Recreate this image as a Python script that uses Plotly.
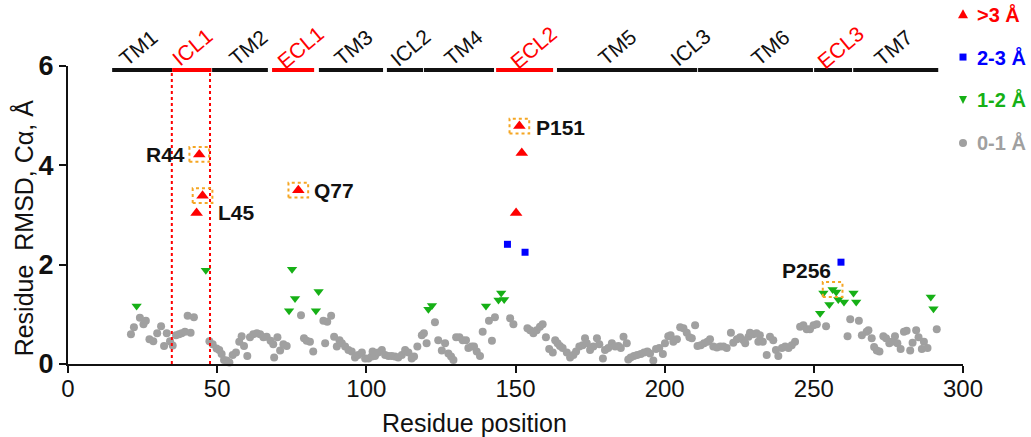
import plotly.graph_objects as go

# residue position / Cα RMSD per class
gray_x = [21.1, 22.1, 24.1, 25.3, 26.1, 27.3, 28.6, 29.9, 31.2, 32.2, 33.1, 34.2, 35.1, 36.2, 37.2, 38.1,
          39.2, 40.1, 41.1, 42.2, 47.4, 48.5, 49.8, 50.7, 51.5, 52.3, 53.2, 54.1, 55.2, 56.3, 57.4, 58.2,
          59.0, 60.1, 61.0, 62.1, 63.3, 64.4, 65.5, 66.6, 67.9, 68.8, 69.1, 70.2, 71.1, 72.2, 73.3, 78.1,
          79.1, 80.0, 81.1, 82.2, 85.6, 86.2, 86.9, 88.2, 89.2, 90.1, 91.0, 91.8, 92.9, 94.0, 95.1, 96.2,
          97.3, 98.5, 99.6, 100.7, 101.8, 102.1, 102.9, 104.0, 105.2, 106.3, 107.4, 108.5, 109.6, 110.7,
          111.9, 113.0, 114.1, 115.2, 116.0, 117.1, 118.6, 119.3, 120.2, 123.0, 124.1, 125.3, 126.4, 127.5,
          128.4, 129.2, 130.1, 131.2, 132.3, 133.4, 134.2, 135.3, 136.1, 137.0, 138.1, 139.0, 141.1, 142.1,
          143.1, 148.2, 149.3, 154.0, 154.9, 156.0, 157.1, 158.2, 159.1, 160.2, 161.3, 162.5, 163.3, 164.1,
          164.9, 165.8, 167.2, 168.3, 169.4, 170.3, 171.4, 172.5, 173.3, 173.9, 175.0, 176.1, 177.3, 178.1,
          179.3, 180.0, 181.1, 182.3, 183.4, 184.5, 185.3, 186.2, 187.3, 187.8, 188.6, 189.7, 190.8, 192.0,
          193.1, 194.2, 195.1, 196.2, 197.1, 198.2, 199.4, 200.1, 201.2, 202.0, 202.9, 204.1, 205.2, 206.3,
          207.4, 208.3, 209.1, 210.2, 211.0, 212.1, 213.2, 214.3, 215.2, 216.3, 217.5, 218.6, 219.7, 220.8,
          222.2, 223.0, 224.2, 225.3, 226.4, 227.0, 228.1, 228.6, 229.7, 230.8, 231.4, 231.9, 232.9, 234.2,
          235.3, 236.4, 237.3, 238.1, 239.3, 240.4, 241.5, 242.6, 243.7, 245.4, 246.5, 247.6, 248.7, 249.9,
          251.0, 254.1, 261.3, 262.2, 265.1, 266.1, 267.7, 268.3, 269.4, 270.2, 271.1, 272.0, 273.3, 274.2,
          275.3, 276.1, 277.2, 278.0, 279.1, 280.2, 281.1, 282.3, 283.1, 284.3, 285.1, 286.2, 286.9, 288.1,
          291.2]
gray_y = [0.60, 0.74, 0.93, 0.80, 0.87, 0.50, 0.46, 0.62, 0.76, 0.36, 0.62, 0.46, 0.37, 0.58, 0.60, 0.62,
          0.65, 0.97, 0.63, 0.94, 0.46, 0.40, 0.31, 0.28, 0.20, 0.08, 0.07, 0.03, 0.18, 0.23, 0.45, 0.56,
          0.36, 0.16, 0.54, 0.60, 0.62, 0.60, 0.54, 0.55, 0.47, 0.40, 0.13, 0.54, 0.27, 0.40, 0.36, 0.98,
          0.52, 0.47, 0.45, 0.25, 0.87, 0.42, 0.85, 0.97, 0.55, 0.35, 0.48, 0.42, 0.35, 0.28, 0.25, 0.13,
          0.18, 0.23, 0.11, 0.11, 0.15, 0.25, 0.16, 0.23, 0.28, 0.18, 0.16, 0.16, 0.15, 0.13,
          0.18, 0.28, 0.23, 0.11, 0.15, 0.35, 0.58, 0.62, 0.42, 0.84, 0.48, 0.27, 0.42, 0.21,
          0.15, 0.08, 0.54, 0.54, 0.48, 0.48, 0.32, 0.35, 0.35, 0.25, 0.16, 0.65, 0.87, 0.47,
          0.94, 0.92, 0.80, 0.72, 0.68, 0.62, 0.68, 0.75, 0.80, 0.54, 0.30, 0.23, 0.48, 0.42,
          0.36, 0.32, 0.23, 0.13, 0.18, 0.25, 0.35, 0.38, 0.52, 0.42, 0.28, 0.35, 0.52, 0.40,
          0.11, 0.28, 0.32, 0.42, 0.35, 0.36, 0.32, 0.55, 0.42, 0.09, 0.13, 0.16, 0.18, 0.20,
          0.23, 0.25, 0.21, 0.07, 0.30, 0.32, 0.20, 0.42, 0.56, 0.58, 0.45, 0.50, 0.74, 0.72,
          0.63, 0.54, 0.52, 0.78, 0.36, 0.38, 0.42, 0.45, 0.50, 0.35, 0.33, 0.35, 0.35, 0.32,
          0.63, 0.43, 0.50, 0.54, 0.48, 0.42, 0.55, 0.63, 0.60, 0.62, 0.45, 0.58, 0.45, 0.18,
          0.55, 0.48, 0.28, 0.16, 0.32, 0.35, 0.32, 0.38, 0.45, 0.75, 0.78, 0.70, 0.70, 0.78,
          0.80, 0.76, 0.56, 0.90, 0.87, 0.58, 0.65, 0.68, 0.52, 0.34, 0.27, 0.25, 0.56, 0.52,
          0.42, 0.45, 0.56, 0.42, 0.30, 0.65, 0.67, 0.27, 0.43, 0.68, 0.54, 0.30, 0.45, 0.32,
          0.70]

green_x = [23.0, 46.2, 74.1, 75.1, 76.1, 83.1, 84.0, 120.8, 122.0, 140.1, 144.3, 145.2, 146.2,
           252.1, 253.2, 255.2, 256.3, 257.5, 258.2, 260.1, 263.3, 264.2, 289.2, 290.1]
green_y = [1.17, 1.89, 1.07, 1.91, 1.32, 1.07, 1.46, 1.10, 1.18, 1.17, 1.29, 1.43, 1.30,
           1.02, 1.43, 1.20, 1.50, 1.45, 1.30, 1.25, 1.43, 1.25, 1.35, 1.11]

blue_x = [147.3, 153.2, 259.1]
blue_y = [2.41, 2.25, 2.05]

red_x = [43.1, 44.0, 45.1, 77.2, 150.2, 151.3, 152.1]
red_y = [3.04, 4.22, 3.39, 3.50, 3.04, 4.79, 4.25]

# highlighted residues
hl_names = ["R44", "L45", "Q77", "P151", "P256"]
hl_x = [44.0, 45.1, 77.2, 151.3, 256.3]
hl_y = [4.22, 3.39, 3.50, 4.79, 1.50]

# topology segments along the top
seg_start = [14.8, 34.9, 48.3, 68.4, 84.1, 106.9, 119.3, 143.5, 163.9, 211.2, 250.1, 263.2]
seg_end = [34.9, 48.1, 67.0, 82.5, 105.6, 119.0, 142.8, 162.6, 210.9, 249.7, 262.8, 291.7]
seg_red = [False, True, False, True, False, False, False, True, False, False, False, False]
region_names = ["TM1", "ICL1", "TM2", "ECL1", "TM3", "ICL2", "TM4", "ECL2", "TM5", "ICL3", "TM6", "ECL3", "TM7"]
region_x = [23.6, 41.4, 60.4, 77.8, 95.6, 114.7, 132.5, 155.9, 183.9, 208.5, 235.3, 258.8, 276.7]
region_red = [False, True, False, True, False, False, False, True, False, False, False, True, False]
icl1_lines = [34.8, 47.6]

# legend classes
leg_names = [">3 Å", "2-3 Å", "1-2 Å", "0-1 Å"]
leg_colors = ["#ff0000", "#0000ff", "#16b016", "#a0a0a0"]

FONT = "Liberation Sans, Arial, sans-serif"
RED = "#ff0000"
Y_MAX = 6
X_MAX = 300

fig = go.Figure()
fig.add_trace(go.Scatter(x=gray_x, y=gray_y, mode="markers", cliponaxis=False,
                         marker=dict(symbol="circle", size=8, color=leg_colors[3])))
fig.add_trace(go.Scatter(x=green_x, y=green_y, mode="markers", cliponaxis=False,
                         marker=dict(symbol="triangle-down", size=9, color=leg_colors[2])))
fig.add_trace(go.Scatter(x=blue_x, y=blue_y, mode="markers", cliponaxis=False,
                         marker=dict(symbol="square", size=7, color=leg_colors[1])))
fig.add_trace(go.Scatter(x=red_x, y=red_y, mode="markers", cliponaxis=False,
                         marker=dict(symbol="triangle-up", size=11, color=leg_colors[0])))

# legend drawn by hand in the top right corner (symbols as pixel-sized shapes)
leg_paths = ["M -5 -4 L 5 -4 L 0 5 Z", None, "M -4 4 L 4 4 L 0 -4 Z", None]
leg_types = ["path", "rect", "path", "circle"]
leg_half = [0, 3.5, 0, 4]
leg_y = [1.174 - 0.144 * i for i in range(len(leg_names))]
for n, c, y, t, p, h in zip(leg_names, leg_colors, leg_y, leg_types, leg_paths, leg_half):
    common = dict(xref="paper", yref="paper", xsizemode="pixel", ysizemode="pixel",
                  xanchor=1.0, yanchor=y, fillcolor=c, line=dict(width=0))
    if t == "path":
        fig.add_shape(type="path", path=p, **common)
    else:
        fig.add_shape(type=t, x0=-h, x1=h, y0=-h, y1=h, **common)
    fig.add_annotation(xref="paper", yref="paper", x=1.0134, y=y, text="<b>" + n + "</b>",
                       showarrow=False, xanchor="left", yanchor="middle",
                       font=dict(family=FONT, size=20, color=c))

# top topology bar
bar_y = 5.92
for x0, x1, r in zip(seg_start, seg_end, seg_red):
    fig.add_shape(type="line", x0=x0, x1=x1, y0=bar_y, y1=bar_y,
                  line=dict(color=RED if r else "#111111", width=4))
for name, x, r in zip(region_names, region_x, region_red):
    fig.add_annotation(x=x, yref="paper", y=6.38 / Y_MAX, text=name, showarrow=False, textangle=-40,
                       xanchor="center", yanchor="middle",
                       font=dict(family=FONT, size=21, color=RED if r else "#111111"))

for x in icl1_lines:
    fig.add_shape(type="line", x0=x, x1=x, y0=0, y1=bar_y,
                  line=dict(color=RED, width=2, dash="3px,3px"))

# highlight boxes
for x, y in zip(hl_x, hl_y):
    fig.add_shape(type="rect", x0=x - 3.3, x1=x + 3.3, y0=y - 0.15, y1=y + 0.15,
                  line=dict(color="#f5a623", width=2, dash="dot"))

# labels next to boxes
lab_dx = [-4.0, 4.5, 4.5, 5.0, 0.0]
lab_dy = [0.0, -0.33, 0.0, -0.02, 0.39]
lab_anchor = ["right", "left", "left", "left", "right"]
for n, x, y, dx, dy, a in zip(hl_names, hl_x, hl_y, lab_dx, lab_dy, lab_anchor):
    fig.add_annotation(x=x + dx, y=y + dy, text="<b>" + n + "</b>", showarrow=False, xanchor=a,
                       font=dict(family=FONT, size=21, color="#111111"))

fig.add_annotation(xref="paper", yref="paper", x=0.454, y=-0.197, text="Residue position",
                   showarrow=False, xanchor="center", yanchor="middle",
                   font=dict(family=FONT, size=25, color="#111111"))
fig.add_annotation(xref="paper", yref="paper", x=-0.05, y=0.456, text="Residue  RMSD, Cα, Å",
                   showarrow=False, textangle=-90, xanchor="center", yanchor="middle",
                   font=dict(family=FONT, size=25, color="#111111"))

fig.update_layout(
    width=1031, height=437,
    margin=dict(l=68, r=68, t=66, b=73, autoexpand=False),
    plot_bgcolor="white", paper_bgcolor="white",
    font=dict(family=FONT, color="#111111"),
    showlegend=False,
)
fig.update_xaxes(range=[0, X_MAX], tickvals=[0, 50, 100, 150, 200, 250, 300], showgrid=False, zeroline=False,
                 showline=True, linecolor="#111111", linewidth=2, ticks="outside", ticklen=7, tickwidth=2,
                 tickcolor="#111111", tickfont=dict(family=FONT, size=24, color="#111111"),
                 ticklabelstandoff=-5, automargin=False)
fig.update_yaxes(range=[0, Y_MAX], tickvals=[0, 2, 4, 6], ticktext=["<b>0</b>", "<b>2</b>", "<b>4</b>", "<b>6</b>"],
                 showgrid=False, zeroline=False, showline=True, linecolor="#111111", linewidth=2,
                 ticks="outside", ticklen=7, tickwidth=2, tickcolor="#111111",
                 tickfont=dict(family=FONT, size=27, color="#111111"), automargin=False)

# page body has a default 8px margin; drop it so the figure fills the window
fig.write_html("out.html", default_width="1031px", default_height="437px",
               config={"displayModeBar": False},
               post_script="document.body.style.margin='0';")
